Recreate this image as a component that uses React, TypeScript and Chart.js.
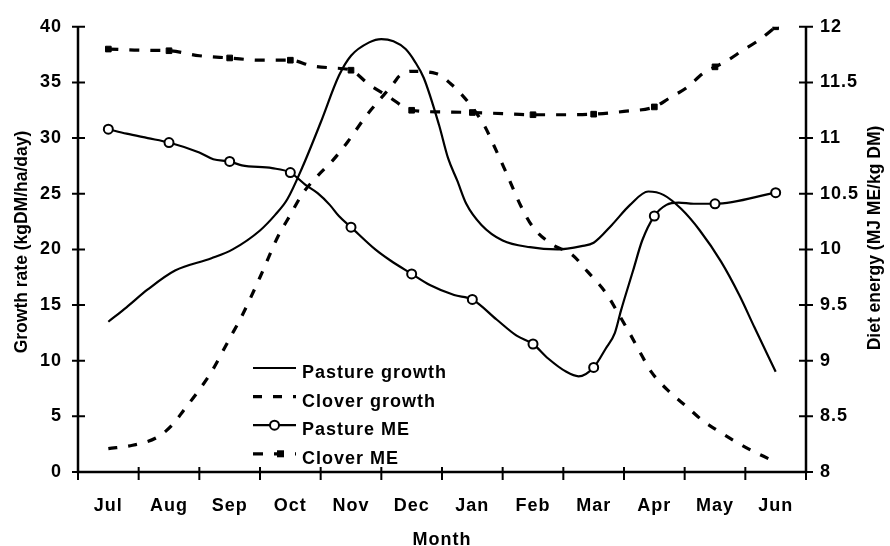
import React, { useEffect, useRef } from 'react';
import { Chart, registerables } from 'chart.js';

Chart.register(...registerables);

const months = ['Jul', 'Aug', 'Sep', 'Oct', 'Nov', 'Dec', 'Jan', 'Feb', 'Mar', 'Apr', 'May', 'Jun'];
const growthTicks = [0, 5, 10, 15, 20, 25, 30, 35, 40];
const energyTicks = [8, 8.5, 9, 9.5, 10, 10.5, 11, 11.5, 12];

const xTitle = 'Month';
const leftTitle = 'Growth rate (kgDM/ha/day)';
const rightTitle = 'Diet energy (MJ ME/kg DM)';

// [month position (Jul = 0), value]
const pastureGrowth: [number, number][] = [
  [0, 13.5], [0.3, 14.8], [0.65, 16.4], [1.1, 18.1], [1.7, 19.2], [2.05, 20.0], [2.5, 21.7],
  [2.75, 23.1], [2.95, 24.5], [3.2, 27.4], [3.5, 31.4], [3.8, 35.6], [4.0, 37.4], [4.3, 38.6],
  [4.5, 38.9], [4.7, 38.7], [4.9, 38.0], [5.05, 36.9], [5.2, 35.4], [5.45, 31.2], [5.6, 28.2],
  [5.75, 26.2], [5.9, 24.1], [6.15, 22.2], [6.5, 20.8], [6.95, 20.2], [7.4, 20.0], [7.8, 20.3],
  [8.0, 20.6], [8.3, 22.2], [8.6, 24.0], [8.9, 25.2], [9.15, 24.9], [9.45, 23.6], [9.75, 21.7],
  [10.1, 18.9], [10.4, 15.9], [10.65, 13.0], [11, 9.0],
];

const cloverGrowth: [number, number][] = [
  [0, 2.1], [0.4, 2.4], [0.8, 3.1], [1.05, 4.2], [1.25, 5.6], [1.5, 7.4], [1.7, 9.0], [2.0, 12.0],
  [2.2, 14.0], [2.5, 17.5], [2.8, 21.2], [3.0, 23.1], [3.2, 25.0], [3.45, 26.6], [3.7, 28.0],
  [3.95, 29.7], [4.25, 32.0], [4.45, 33.3], [4.7, 34.9], [4.8, 35.6], [5.0, 36.0], [5.4, 35.8],
  [5.7, 34.6], [5.95, 33.1], [6.2, 31.1], [6.4, 28.8], [6.55, 27.0], [6.8, 23.9], [7.0, 22.0],
  [7.3, 20.5], [7.65, 19.5], [7.9, 18.0], [8.2, 16.1], [8.4, 14.3], [8.6, 12.4], [8.75, 10.9],
  [8.95, 9.0], [9.25, 7.2], [9.55, 5.8], [9.8, 4.6], [10.05, 3.7], [10.35, 2.7], [10.65, 1.8],
  [11, 0.9],
];

const pastureME: [number, number][] = [
  [0, 11.08], [0.3, 11.04], [0.65, 11.0], [1, 10.96], [1.5, 10.87], [1.73, 10.81], [2, 10.79],
  [2.2, 10.755], [2.7, 10.73], [3, 10.69], [3.25, 10.58], [3.45, 10.505], [3.65, 10.4], [3.8, 10.3],
  [4, 10.2], [4.4, 10.0], [4.65, 9.9], [5, 9.78], [5.3, 9.68], [5.7, 9.59], [6, 9.55], [6.4, 9.37],
  [6.73, 9.225], [7, 9.15], [7.25, 9.02], [7.55, 8.9], [7.75, 8.86], [8, 8.94], [8.2, 9.11],
  [8.35, 9.25], [8.45, 9.45], [8.65, 9.81], [8.8, 10.08], [9, 10.3], [9.2, 10.4], [9.4, 10.42],
  [9.65, 10.41], [10, 10.41], [11, 10.51],
];

const cloverME: [number, number][] = [
  [0, 11.8], [0.5, 11.79], [1, 11.785], [1.5, 11.74], [2, 11.72], [2.5, 11.7], [3, 11.7],
  [3.35, 11.65], [3.7, 11.63], [4, 11.61], [4.3, 11.48], [4.6, 11.38], [5, 11.25], [5.5, 11.235],
  [6, 11.23], [6.5, 11.22], [7, 11.21], [7.5, 11.21], [8, 11.215], [8.5, 11.24], [9, 11.28],
  [9.25, 11.36], [9.55, 11.46], [9.8, 11.58], [10, 11.64], [10.15, 11.68], [10.45, 11.785],
  [10.75, 11.89], [11, 12.0],
];

const FONT_FAMILY = '"Liberation Sans", Arial, sans-serif';
const toXY = (arr: [number, number][]) => arr.map(([x, y]) => ({ x, y }));
const monthlyOnly = (r: number) => (ctx: any) => (ctx.raw && Number.isInteger(ctx.raw.x) ? r : 0);

const decorPlugin = {
  id: 'decor',
  beforeLayout(chart: any) {
    chart.ctx.letterSpacing = '1px';
  },
  beforeDraw(chart: any) {
    chart.ctx.letterSpacing = '1px';
  },
  afterDraw(chart: any) {
    const { ctx, chartArea: a, scales } = chart;
    ctx.save();
    ctx.letterSpacing = '1px';
    ctx.setLineDash([]);
    ctx.strokeStyle = '#000';
    ctx.lineWidth = 2.5;
    ctx.beginPath();
    ctx.moveTo(a.left, a.top);
    ctx.lineTo(a.left, a.bottom);
    ctx.lineTo(a.right, a.bottom);
    ctx.lineTo(a.right, a.top);
    ctx.stroke();

    ctx.lineWidth = 2;
    ctx.beginPath();
    growthTicks.forEach((v) => {
      const py = scales.y.getPixelForValue(v);
      ctx.moveTo(a.left - 6, py);
      ctx.lineTo(a.left + 7, py);
    });
    energyTicks.forEach((v) => {
      const py = scales.y1.getPixelForValue(v);
      ctx.moveTo(a.right - 7, py);
      ctx.lineTo(a.right + 7, py);
    });
    const step = (a.right - a.left) / months.length;
    for (let i = 0; i <= months.length; i++) {
      const px = a.left + i * step;
      ctx.moveTo(px, a.bottom - 5);
      ctx.lineTo(px, a.bottom + 8);
    }
    ctx.stroke();

    ctx.fillStyle = '#000';
    ctx.font = `bold 18px ${FONT_FAMILY}`;
    ctx.textAlign = 'center';
    ctx.textBaseline = 'middle';
    ctx.fillText(xTitle, (a.left + a.right) / 2, a.bottom + 68);

    ctx.letterSpacing = '0px';
    ctx.font = `bold 17.5px ${FONT_FAMILY}`;
    ctx.save();
    ctx.translate(22, 242);
    ctx.rotate(-Math.PI / 2);
    ctx.fillText(leftTitle, 0, 0);
    ctx.restore();

    ctx.save();
    ctx.translate(875, 238);
    ctx.rotate(-Math.PI / 2);
    ctx.fillText(rightTitle, 0, 0);
    ctx.restore();

    // legend
    ctx.letterSpacing = '1px';
    ctx.font = `bold 18px ${FONT_FAMILY}`;
    const ds = chart.data.datasets;
    const lx0 = 253;
    const lx1 = 296;
    const tx = 302;
    ctx.textAlign = 'left';
    ctx.textBaseline = 'alphabetic';
    ds.forEach((d: any, i: number) => {
      const base = 378 + i * 28.6;
      const ly = base - 10;
      ctx.strokeStyle = '#000';
      ctx.lineWidth = d.borderWidth;
      ctx.setLineDash(d.borderDash || []);
      ctx.beginPath();
      ctx.moveTo(lx0, ly);
      ctx.lineTo(lx1, ly);
      ctx.stroke();
      ctx.setLineDash([]);
      if (d.pointStyle === 'circle') {
        ctx.beginPath();
        ctx.fillStyle = '#fff';
        ctx.lineWidth = 2;
        ctx.arc((lx0 + lx1) / 2, ly, 4.5, 0, Math.PI * 2);
        ctx.fill();
        ctx.stroke();
      } else if (d.pointStyle === 'rect') {
        ctx.fillStyle = '#000';
        ctx.fillRect(277, ly - 3.5, 7, 7);
      }
      ctx.fillStyle = '#000';
      ctx.fillText(d.label, tx, base);
    });
    ctx.restore();
  },
};

export default function App() {
  const canvasRef = useRef<HTMLCanvasElement | null>(null);

  useEffect(() => {
    document.body.style.margin = '0';
    const canvas = canvasRef.current;
    if (!canvas) return;
    const font = { family: FONT_FAMILY, size: 18, weight: 'bold' as const };
    const chart = new Chart(canvas, {
      type: 'line',
      data: {
        labels: months,
        datasets: [
          {
            label: 'Pasture growth',
            data: toXY(pastureGrowth),
            xAxisID: 'xv',
            yAxisID: 'y',
            borderColor: '#000',
            borderWidth: 2.2,
            pointRadius: 0,
            cubicInterpolationMode: 'monotone',
          },
          {
            label: 'Clover growth',
            data: toXY(cloverGrowth),
            xAxisID: 'xv',
            yAxisID: 'y',
            borderColor: '#000',
            borderWidth: 3.2,
            borderDash: [9, 11],
            pointRadius: 0,
            cubicInterpolationMode: 'monotone',
          },
          {
            label: 'Pasture ME',
            data: toXY(pastureME),
            xAxisID: 'xv',
            yAxisID: 'y1',
            borderColor: '#000',
            borderWidth: 2.2,
            pointStyle: 'circle',
            pointRadius: monthlyOnly(4.5),
            pointBorderWidth: 2,
            pointBorderColor: '#000',
            pointBackgroundColor: '#fff',
            cubicInterpolationMode: 'monotone',
          },
          {
            label: 'Clover ME',
            data: toXY(cloverME),
            xAxisID: 'xv',
            yAxisID: 'y1',
            borderColor: '#000',
            borderWidth: 3.2,
            borderDash: [10, 11],
            pointStyle: 'rect',
            pointRadius: monthlyOnly(4),
            pointBorderWidth: 1,
            pointBorderColor: '#000',
            pointBackgroundColor: '#000',
            cubicInterpolationMode: 'monotone',
          },
        ] as any,
      },
      options: {
        responsive: false,
        animation: false,
        maintainAspectRatio: false,
        layout: { padding: { top: 19, left: 0, right: 0, bottom: 0 } },
        plugins: { legend: { display: false }, tooltip: { enabled: false } },
        scales: {
          x: {
            type: 'category',
            position: 'bottom',
            offset: true,
            grid: { display: false, drawTicks: false, offset: true },
            border: { display: false },
            ticks: { font, color: '#000', padding: 23, maxRotation: 0, autoSkip: false },
            afterFit: (s: any) => {
              s.height = 74;
            },
          },
          xv: {
            type: 'linear',
            min: -0.5,
            max: 11.5,
            display: false,
          },
          y: {
            type: 'linear',
            position: 'left',
            min: 0,
            max: 40,
            grid: { display: false, drawTicks: false },
            border: { display: false },
            ticks: { font, color: '#000', stepSize: 5, padding: 16 },
            afterFit: (s: any) => {
              s.width = 78;
            },
          },
          y1: {
            type: 'linear',
            position: 'right',
            min: 8,
            max: 12,
            grid: { display: false, drawTicks: false },
            border: { display: false },
            ticks: {
              font,
              color: '#000',
              stepSize: 0.5,
              padding: 14,
              callback: (v: any) => String(Math.round(Number(v) * 10) / 10),
            },
            afterFit: (s: any) => {
              s.width = 84;
            },
          },
        },
      } as any,
      plugins: [decorPlugin],
    });
    return () => {
      chart.destroy();
    };
  }, []);

  return (
    <div style={{ width: 890, height: 546 }}>
      <canvas ref={canvasRef} width={890} height={546} style={{ display: 'block' }} />
    </div>
  );
}
